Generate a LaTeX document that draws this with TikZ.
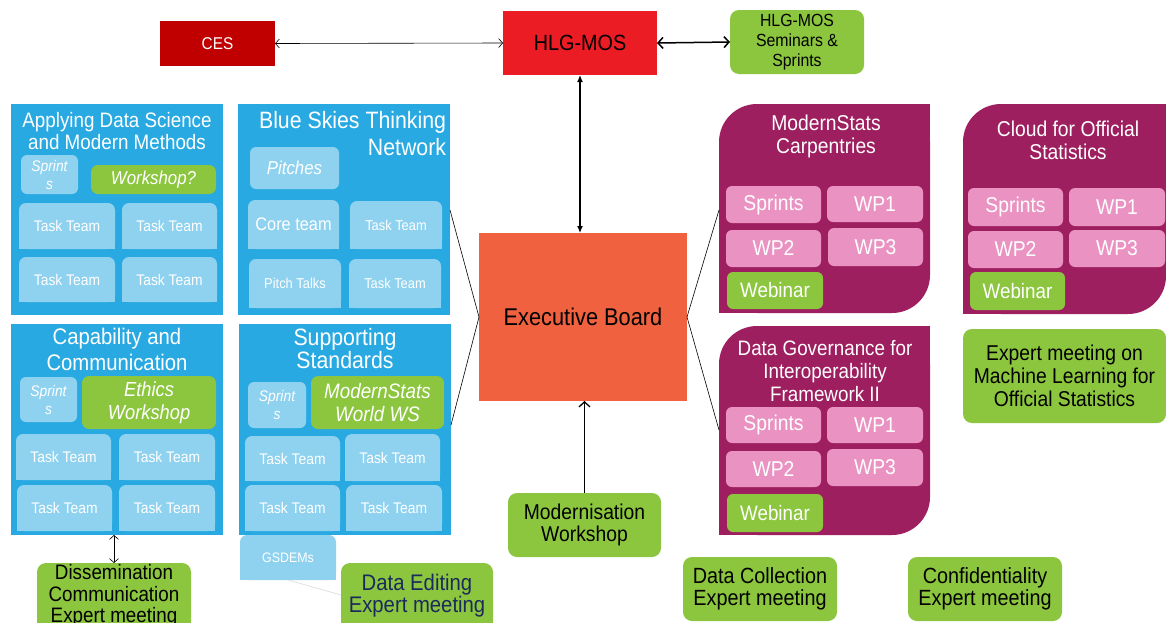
\documentclass[tikz,border=0pt]{standalone}
\usepackage{fontspec}
\setmainfont[FakeStretch=0.9]{Liberation Sans}
\usetikzlibrary{arrows.meta}
\definecolor{cblue}{HTML}{29A9E1}
\definecolor{clb}{HTML}{8FD2EF}
\definecolor{cgreen}{HTML}{8CC63F}
\definecolor{cpurp}{HTML}{9E1F5F}
\definecolor{cpink}{HTML}{EA93C2}
\definecolor{cexec}{HTML}{F0623F}
\definecolor{chlg}{HTML}{EC1C24}
\definecolor{cces}{HTML}{C00000}
\definecolor{cnavy}{HTML}{1B2A5C}
\newcommand\fs[2]{\fontsize{\fpeval{#1*1.1}}{#2}\selectfont}
\newcommand\bx[7]{\node[#1,minimum width={#5-#3},minimum height={#6-#4}] (#2) at ({(#3+#5)/2},{(#4+#6)/2}) {#7};}
\newcommand\tb[7]{\fill[clb] (#2,{(#3+#5)/2}) rectangle (#4,#5);\bx{tbox,#6}{#1}{#2}{#3}{#4}{#5}{#7}}
\newcommand\pb[5]{\fill[cpurp] ({#4-38},#3) rectangle (#4,{#3+38});\fill[cpurp] (#2,{#5-38}) rectangle ({#2+38},#5);\bx{pbox}{#1}{#2}{#3}{#4}{#5}{}}
\tikzset{
 base/.style={inner sep=0pt, outer sep=0pt, align=center, text=white},
 bbox/.style={base, fill=cblue},
 lbox/.style={base, fill=clb, rounded corners=6},
 tbox/.style={base, fill=clb, rounded corners=7},
 gbox/.style={base, fill=cgreen, rounded corners=9, text=black},
 gin/.style={base, fill=cgreen, rounded corners=7},
 pk/.style={base, fill=cpink, rounded corners=6, font=\fs{19.5}{22}},
 wb/.style={base, fill=cgreen, rounded corners=6, font=\fs{19}{22}},
 pbox/.style={base, fill=cpurp, rounded corners=38},
 lbl/.style={inner sep=0pt, outer sep=0pt, align=center, text=white},
 thinarr/.style={line width=0.6pt, {Straight Barb[length=4pt,width=9pt]}-{Straight Barb[length=4pt,width=9pt]}},
 thickarr/.style={line width=1.5pt, {Straight Barb[length=5pt,width=11pt]}-{Straight Barb[length=5pt,width=11pt]}},
 link/.style={line width=0.6pt, black},
}
\begin{document}
\begin{tikzpicture}[x=1pt,y=-1pt]
\useasboundingbox (0,0) rectangle (1166,622);
\clip (0,0) rectangle (1166,622);
\fill[white] (0,0) rectangle (1166,622);
% top row
\bx{base,fill=cces,font=\fs{15.5}{18}}{ces}{160}{21}{275}{66}{CES}
\bx{base,fill=chlg,text=black,font=\fs{20}{24}}{hlg}{503}{11}{657}{75}{HLG-MOS}
\bx{gbox,font=\fs{16}{20}}{sem}{730}{10}{864}{74}{HLG-MOS\\Seminars \&\\Sprints}
% executive board
\bx{base,fill=cexec,text=black,font=\fs{22}{26}}{exec}{479}{233}{687}{401}{Executive Board}
\bx{gbox,font=\fs{19.5}{22}}{modw}{508}{493}{661}{557}{Modernisation\\Workshop}
% blue boxes
\bx{bbox}{b1}{11}{104}{223}{315}{}
\bx{bbox}{b2}{238}{104}{450}{315}{}
\bx{bbox}{b3}{11}{324}{223}{535}{}
\bx{bbox}{b4}{239}{324}{451}{535}{}
\node[lbl,font=\fs{19}{22}] (t1) at (117,131) {Applying Data Science\\and Modern Methods};
\node[lbl,font=\fs{21.5}{27},anchor=east,align=right] (t2) at (446,133.5) {Blue Skies Thinking\\Network};
\node[lbl,font=\fs{20.5}{26}] (t3) at (117,349) {Capability and\\Communication};
\node[lbl,font=\fs{21.5}{22}] (t4) at (345,349) {Supporting\\Standards};
% box 1 content
\bx{lbox,font=\fs{14}{18}\itshape}{sp1}{21}{155}{78}{194}{Sprint\\s}
\bx{gin,font=\fs{17}{20}\itshape}{ws1}{91}{165}{216}{194}{Workshop?}
\tb{tt11}{19}{203}{115}{249}{font=\fs{14}{16}}{Task Team}
\tb{tt12}{122}{203}{217}{249}{font=\fs{14}{16}}{Task Team}
\tb{tt13}{19}{257}{115}{302}{font=\fs{14}{16}}{Task Team}
\tb{tt14}{122}{257}{217}{302}{font=\fs{14}{16}}{Task Team}
% box 2 content
\bx{lbox,font=\fs{17}{20}\itshape}{pit}{250}{147}{339}{189}{Pitches}
\tb{core}{248}{200}{339}{249}{font=\fs{16.5}{18}}{Core team}
\tb{tt21}{350}{201}{442}{249}{font=\fs{13}{16}}{Task Team}
\tb{ptalk}{249}{259}{341}{308}{font=\fs{13}{16}}{Pitch Talks}
\tb{tt22}{349}{259}{441}{308}{font=\fs{13}{16}}{Task Team}
% box 3 content
\bx{lbox,font=\fs{14}{18}\itshape}{sp3}{20}{377}{77}{422}{Sprint\\s}
\bx{gin,font=\fs{18.5}{23}\itshape}{eth}{82}{376}{216}{429}{Ethics\\Workshop}
\tb{tt31}{16}{434}{111}{480}{font=\fs{14}{16}}{Task Team}
\tb{tt32}{119}{434}{215}{480}{font=\fs{14}{16}}{Task Team}
\tb{tt33}{17}{485}{112}{531}{font=\fs{14}{16}}{Task Team}
\tb{tt34}{119}{485}{215}{531}{font=\fs{14}{16}}{Task Team}
% box 4 content
\bx{lbox,font=\fs{14}{18}\itshape}{sp4}{248}{382}{306}{428}{Sprint\\s}
\bx{gin,font=\fs{19}{23}\itshape}{mw}{311}{376}{444}{429}{ModernStats\\World WS}
\tb{tt41}{245}{436}{340}{481}{font=\fs{14}{16}}{Task Team}
\tb{tt42}{345}{434}{440}{481}{font=\fs{14}{16}}{Task Team}
\tb{tt43}{245}{485}{340}{531}{font=\fs{14}{16}}{Task Team}
\tb{tt44}{346}{485}{442}{531}{font=\fs{14}{16}}{Task Team}
\tb{gsd}{240}{535}{336}{580}{font=\fs{12.5}{14}}{GSDEMs}
% purple: ModernStats Carpentries
\pb{msc}{719}{104}{930}{313}
\node[lbl,font=\fs{19.5}{23}] (msct) at (826,136.5) {ModernStats\\Carpentries};
\bx{pk}{msc1}{726}{186}{821}{223}{Sprints}
\bx{pk}{msc2}{827}{186}{923}{222}{WP1}
\bx{pk}{msc3}{726}{230}{821}{267}{WP2}
\bx{pk}{msc4}{828}{228}{923}{266}{WP3}
\bx{wb}{msc5}{727}{272}{823}{309}{Webinar}
% purple: Cloud
\pb{cos}{963}{104}{1166}{314}
\node[lbl,font=\fs{19.5}{23}] (cost) at (1068,140.5) {Cloud for Official\\Statistics};
\bx{pk}{cos1}{968}{188}{1063}{226}{Sprints}
\bx{pk}{cos2}{1069}{188}{1165}{226}{WP1}
\bx{pk}{cos3}{968}{231}{1063}{268}{WP2}
\bx{pk}{cos4}{1069}{230}{1165}{267}{WP3}
\bx{wb}{cos5}{970}{272}{1065}{310}{Webinar}
\bx{gbox,font=\fs{19.5}{23}}{ml}{963}{329}{1166}{423}{Expert meeting on\\Machine Learning for\\Official Statistics}
% purple: DGIF
\pb{dg}{719}{326}{930}{535}
\node[lbl,font=\fs{19}{23}] (dgt) at (825,371) {Data Governance for\\Interoperability\\Framework II};
\bx{pk}{dg1}{726}{407}{821}{443}{Sprints}
\bx{pk}{dg2}{827}{407}{923}{443}{WP1}
\bx{pk}{dg3}{726}{451}{821}{487}{WP2}
\bx{pk}{dg4}{827}{449}{923}{486}{WP3}
\bx{wb}{dg5}{727}{494}{823}{532}{Webinar}
% bottom green boxes
\bx{gbox}{diss}{37}{563}{191}{650}{}
\node[lbl,text=black,font=\fs{19}{21.5}] (disst) at (114,596) {Dissemination\\Communication\\Expert meeting};
\bx{gbox}{de}{341}{563}{493}{650}{}
\node[lbl,text=cnavy,font=\fs{20.5}{22}] (det) at (417,596) {Data Editing\\Expert meeting};
\bx{gbox,font=\fs{20}{22}}{dc}{683}{557}{837}{621}{Data Collection\\Expert meeting}
\bx{gbox,font=\fs{20}{22}}{conf}{908}{557}{1062}{621}{Confidentiality\\Expert meeting}
% connector end points
\coordinate (b2r) at (450,210);
\coordinate (b4r) at (451,425);
\coordinate (mscl) at (719,210);
\coordinate (dgl) at (719,430);
\coordinate (dew) at (341,595);
% connectors
\draw[thinarr] (ces.east) -- (hlg.west);
\draw[thickarr] (hlg.east) -- (sem.west);
\draw[line width=1.3pt,{Latex[length=7pt,width=6pt]}-{Latex[length=7pt,width=6pt]}] (hlg.south) -- (hlg.south |- exec.north);
\draw[line width=1.3pt,-{Straight Barb[length=5pt,width=11pt]}] (modw.north) -- (modw.north |- exec.south);
\draw[thinarr] (diss.north |- b3.south) -- (diss.north);
\draw[line width=0.6pt,black!15] (gsd.south) -- (dew);
\draw[link] (exec.west) -- (b2r);
\draw[link] (exec.west) -- (b4r);
\draw[link] (exec.east) -- (mscl);
\draw[link] (exec.east) -- (dgl);
\end{tikzpicture}
\end{document}
